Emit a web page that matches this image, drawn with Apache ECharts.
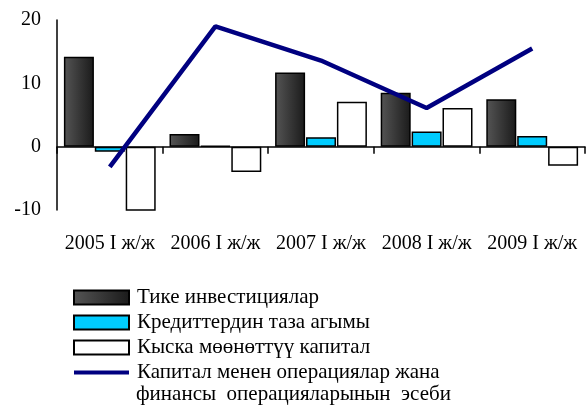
<!DOCTYPE html>
<html>
<head>
<meta charset="utf-8">
<script src="https://cdn.jsdelivr.net/npm/echarts@6/dist/echarts.min.js"></script>
<style>
  html, body { margin: 0; padding: 0; background: #fff; }
  #main { width: 586px; height: 405px; }
</style>
</head>
<body>
<div id="main"></div>
<script>
// периоддор
var categories = ['2005 I ж/ж', '2006 I ж/ж', '2007 I ж/ж', '2008 I ж/ж', '2009 I ж/ж'];
var directInvest = [14.2, 2.0, 11.7, 8.5, 7.5];
var creditFlow = [-0.8, 0.1, 1.5, 2.4, 1.7];
var shortCapital = [-10.3, -4.0, 7.1, 6.1, -3.0];
var capitalAccount = [-3.2, 19.0, 13.6, 6.1, 15.5];
var yTicks = [-10, 0, 10, 20];

var serif = 'Liberation Serif';

var myChart = echarts.init(document.getElementById('main'));
myChart.setOption({
  animation: false,
  textStyle: { fontFamily: serif, color: '#000' },
  grid: { left: 57, right: 1, top: 20, bottom: 195 },
  legend: {
    orient: 'vertical',
    left: 68,
    top: 282,
    itemWidth: 55,
    itemHeight: 14,
    itemGap: 4,
    textStyle: { fontFamily: serif, fontSize: 21, lineHeight: 21, color: '#000', padding: [0, 0, 0, 3] },
    data: [
      { name: 'Тике инвестициялар', icon: 'rect' },
      { name: 'Кредиттердин таза агымы', icon: 'rect' },
      { name: 'Кыска мөөнөттүү капитал', icon: 'rect' },
      { name: 'Капитал менен операциялар жана', icon: 'path://M0,0 L55,0 L55,4 L0,4 Z' }
    ]
  },
  graphic: [
    {
      type: 'text',
      left: 136,
      top: 384,
      style: {
        text: 'финансы  операцияларынын  эсеби',
        font: '21px "Liberation Serif"',
        fill: '#000'
      }
    }
  ],
  xAxis: [
    {
      type: 'category',
      data: categories,
      axisLine: { onZero: true, lineStyle: { color: '#000', width: 1.5 } },
      axisTick: { show: true, length: 7, lineStyle: { color: '#000', width: 1.5 } },
      axisLabel: { show: false }
    },
    {
      type: 'category',
      data: categories,
      position: 'bottom',
      axisLine: { show: false, onZero: false },
      axisTick: { show: false },
      axisLabel: { interval: 0, margin: 24, fontFamily: serif, fontSize: 20, color: '#000' }
    }
  ],
  yAxis: {
    type: 'value',
    min: yTicks[0],
    max: yTicks[yTicks.length - 1],
    interval: 10,
    splitLine: { show: false },
    axisLine: { show: true, lineStyle: { color: '#000', width: 1.5 } },
    axisTick: { show: false },
    axisLabel: { margin: 16, fontFamily: serif, fontSize: 20, color: '#000' }
  },
  series: [
    {
      name: 'Тике инвестициялар',
      type: 'bar',
      barWidth: 30,
      barGap: '3%',
      data: directInvest,
      itemStyle: {
        color: new echarts.graphic.LinearGradient(0, 0, 1, 0, [
          { offset: 0, color: '#555555' },
          { offset: 1, color: '#1a1a1a' }
        ]),
        borderColor: '#000',
        borderWidth: 1.5
      }
    },
    {
      name: 'Кредиттердин таза агымы',
      type: 'bar',
      barWidth: 30,
      barGap: '3%',
      data: creditFlow,
      itemStyle: { color: '#00ccff', borderColor: '#000', borderWidth: 1.5 }
    },
    {
      name: 'Кыска мөөнөттүү капитал',
      type: 'bar',
      barWidth: 30,
      barGap: '3%',
      data: shortCapital,
      itemStyle: { color: '#ffffff', borderColor: '#000', borderWidth: 1.5 }
    },
    {
      name: 'Капитал менен операциялар жана',
      type: 'line',
      symbol: 'none',
      z: 5,
      data: capitalAccount,
      lineStyle: { color: '#000080', width: 4.5 },
      itemStyle: { color: '#000080' }
    }
  ]
});
</script>
</body>
</html>
